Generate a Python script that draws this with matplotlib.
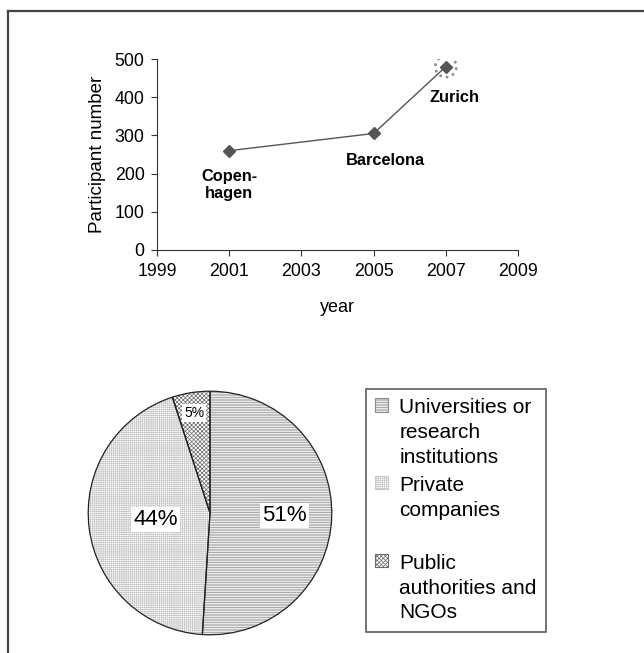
import matplotlib
matplotlib.use("Agg")
import matplotlib.pyplot as plt
from matplotlib.patches import Patch
from matplotlib.lines import Line2D
import numpy as np

plt.rcParams['font.family'] = ['Liberation Sans', 'DejaVu Sans']
plt.rcParams['hatch.linewidth'] = 0.5

# ---- data ----
years = [2001, 2005, 2007]
participants = [260, 305, 480]
cities = ["Copen-\nhagen", "Barcelona", "Zurich"]
city_offsets = [(0, -13), (8.6, -14), (6.5, -16.5)]  # label offsets in points

x_ticks = [1999, 2001, 2003, 2005, 2007, 2009]
y_ticks = [0, 100, 200, 300, 400, 500]

sectors = ["Universities or\nresearch\ninstitutions", "Private\ncompanies\n", "Public\nauthorities and\nNGOs"]
shares = [51, 44, 5]
hatches = ['----------', '++++++++', 'xxxxxxxx']
hatch_colors = ['#8a8a8a', '#c8c8c8', '#6a6a6a']
label_dist = [0.61, 0.45, 0.83]
label_sizes = [16, 16, 10]

W, H = 644, 653
fig = plt.figure(figsize=(W / 100, H / 100), dpi=100)

# outer frame (top and left lines)
fig.add_artist(Line2D([8 / W, 8 / W], [0, 1 - 11 / H], transform=fig.transFigure, color='#444', lw=1.6))
fig.add_artist(Line2D([8 / W, 1], [1 - 11 / H, 1 - 11 / H], transform=fig.transFigure, color='#444', lw=1.6))

# ---- line chart ----
ax = fig.add_axes([157 / W, 1 - 250 / H, (518 - 157) / W, (250 - 59) / H])
ax.plot(years, participants, color='#555555', lw=1.0, marker='D', ms=6, mfc='#555555', mec='#555555', zorder=3)
ax.scatter([years[-1]], [participants[-1]], s=230, facecolors='none', edgecolors='#888888',
           linestyles=':', linewidths=1.8, zorder=4)
for x, y, t, off in zip(years, participants, cities, city_offsets):
    ax.annotate(t, (x, y), xytext=off, textcoords='offset points', ha='center', va='top',
                fontsize=11.8, fontweight='bold', linespacing=1.2)
ax.set_xlim(1999, 2009)
ax.set_ylim(0, 500)
ax.set_xticks(x_ticks)
ax.set_yticks(y_ticks)
ax.tick_params(direction='out', length=4, width=0.8, labelsize=12.8, color='#333', pad=5)
for s in ['top', 'right']:
    ax.spines[s].set_visible(False)
for s in ['left', 'bottom']:
    ax.spines[s].set_color('#333')
    ax.spines[s].set_linewidth(0.8)
ax.set_xlabel('year', fontsize=13, labelpad=14)
ax.set_ylabel('Participant number', fontsize=13.5, labelpad=6)

# ---- pie chart ----
r = 123
cx, cy = 210, 513
pax = fig.add_axes([(cx - r) / W, 1 - (cy + r) / H, 2 * r / W, 2 * r / H])
wedges, texts, autotexts = pax.pie(shares, startangle=90, counterclock=False, autopct='%d%%',
                                   pctdistance=0.6,
                                   wedgeprops=dict(facecolor='white', linewidth=0))
for w, h, c in zip(wedges, hatches, hatch_colors):
    w.set_hatch(h)
    w.set_edgecolor(c)
pax.pie(shares, startangle=90, counterclock=False,
        wedgeprops=dict(fill=False, edgecolor='#222', linewidth=0.9))
for w, t, d, fs in zip(wedges, autotexts, label_dist, label_sizes):
    ang = np.deg2rad((w.theta1 + w.theta2) / 2)
    t.set_position((d * np.cos(ang), d * np.sin(ang)))
    t.set_fontsize(fs)
    t.set_bbox(dict(facecolor='white', edgecolor='none', pad=1.5))
pax.set_xlim(-1.01, 1.01)
pax.set_ylim(-1.01, 1.01)
pax.set_aspect('equal')

handles = [Patch(facecolor='white', edgecolor=c, hatch=h, lw=0.8) for h, c in zip(hatches, hatch_colors)]
leg = fig.legend(handles, sectors, loc='upper left', bbox_to_anchor=(366 / W, 1 - 389 / H),
                 borderaxespad=0, fontsize=15, frameon=True, fancybox=False,
                 edgecolor='#333', handlelength=0.6, handleheight=0.6, handletextpad=0.55,
                 labelspacing=0.45, borderpad=0.45)
leg.get_frame().set_linewidth(1.2)
for t in leg.get_texts():
    t.set_linespacing(1.38)
for col in leg._legend_handle_box.get_children():
    for hp in col.get_children():
        hp.align = 'top'

fig.savefig('out.png', dpi=100)
